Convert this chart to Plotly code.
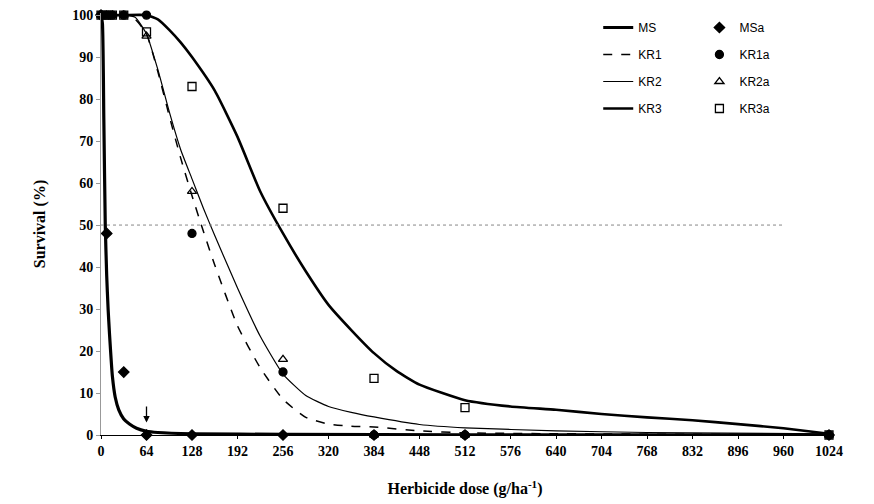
import plotly.graph_objects as go

# ---- data ----
tick_vals = [0, 64, 128, 192, 256, 320, 384, 448, 512, 576, 640, 704, 768, 832, 896, 960, 1024]
y_ticks = [0, 10, 20, 30, 40, 50, 60, 70, 80, 90, 100]

# fitted curves
ms_dose = [0, 2, 4, 6, 8, 10, 12, 16, 20, 25, 32, 40, 50, 64, 80, 128, 256, 512, 1024]
ms_surv = [100, 98, 75, 50, 38, 30, 24, 14, 9, 6, 3.8, 2.6, 1.6, 0.9, 0.6, 0.3, 0.15, 0.05, 0]

kr1_dose = [0, 16, 32, 48, 64, 80, 96, 112, 128, 144, 160, 192, 224, 256, 288, 320, 352, 384, 448, 512, 640, 768, 1024]
kr1_surv = [100, 100, 100, 99, 95.5, 86.5, 76, 66, 57, 48.5, 40.5, 26, 16, 8.5, 4.2, 2.6, 2.1, 1.9, 1.0, 0.5, 0.3, 0.2, 0.1]

kr2_dose = [0, 32, 48, 64, 80, 96, 112, 128, 144, 160, 192, 224, 256, 288, 320, 352, 384, 448, 512, 640, 768, 1024]
kr2_surv = [100, 100, 99.5, 95.5, 87, 77, 68, 61, 54, 47.5, 35, 23.5, 14.5, 9.4, 6.8, 5.4, 4.3, 2.5, 1.7, 1.0, 0.6, 0.3]

kr3_dose = [0, 32, 64, 80, 96, 112, 128, 160, 192, 224, 256, 288, 320, 352, 384, 416, 448, 512, 576, 640, 704, 768, 832, 896, 960, 1024]
kr3_surv = [100, 100, 100, 99, 96.5, 93.5, 90, 82, 71, 58, 48, 39, 31, 25, 19.5, 15.2, 12, 8.3, 6.8, 6, 5, 4.2, 3.5, 2.6, 1.6, 0.3]

# observed points
msa_dose = [0, 8, 32, 64, 128, 256, 384, 512, 1024]
msa_surv = [100, 48, 15, 0, 0, 0, 0, 0, 0]

kr1a_dose = [0, 8, 16, 32, 64, 128, 256, 384, 512, 1024]
kr1a_surv = [100, 100, 100, 100, 100, 48, 15, 0, 0, 0]

kr2a_dose = [0, 8, 16, 32, 64, 128, 256, 384, 512, 1024]
kr2a_surv = [100, 100, 100, 100, 95, 58, 18, 0, 0, 0]

kr3a_dose = [0, 8, 16, 32, 64, 128, 256, 384, 512, 1024]
kr3a_surv = [100, 100, 100, 100, 96, 83, 54, 13.5, 6.5, 0]

ref_level = 50
arrow_dose = 64

fig = go.Figure()

line_specs = [
    ("MS", ms_dose, ms_surv, 3.2, "solid"),
    ("KR1", kr1_dose, kr1_surv, 1.5, "dash"),
    ("KR2", kr2_dose, kr2_surv, 1.2, "solid"),
    ("KR3", kr3_dose, kr3_surv, 2.6, "solid"),
]
for name, xs, ys, w, d in line_specs:
    fig.add_trace(go.Scatter(
        x=xs, y=ys, mode="lines", name=name,
        line=dict(color="black", width=w, dash=d, shape="spline", smoothing=0.5),
        legend="legend", legendgroup=name, cliponaxis=False,
    ))

pt_specs = [
    ("MSa", msa_dose, msa_surv, "diamond", "black"),
    ("KR1a", kr1a_dose, kr1a_surv, "circle", "black"),
    ("KR2a", kr2a_dose, kr2a_surv, "triangle-up-open", "black"),
    ("KR3a", kr3a_dose, kr3a_surv, "square-open", "black"),
]
for name, xs, ys, sym, col in pt_specs:
    fig.add_trace(go.Scatter(
        x=xs, y=ys, mode="markers", name=name,
        marker=dict(symbol=sym, size=8, color=col, line=dict(color="black", width=1.3)),
        legend="legend2", legendgroup=name, cliponaxis=False,
    ))

# 50% reference dotted line
fig.add_shape(type="line", xref="x", yref="y", x0=0, x1=960, y0=ref_level, y1=ref_level,
              line=dict(color="#888888", width=1, dash="dot"))

# arrow at the discriminating dose
fig.add_annotation(x=arrow_dose, y=3, xref="x", yref="y", ax=0, ay=-26,
                   showarrow=True, arrowhead=2, arrowsize=1, arrowwidth=1.3,
                   arrowcolor="black", text=" ")

fig.update_layout(
    width=874, height=504,
    margin=dict(l=101, r=45, t=13, b=69),
    paper_bgcolor="white", plot_bgcolor="white",
    xaxis=dict(
        range=[0, 1024], tickvals=tick_vals, ticktext=[str(v) for v in tick_vals],
        tickfont=dict(family="Liberation Serif", size=14, color="black", weight="bold"),
        showgrid=False, zeroline=False, showline=True, linecolor="black", linewidth=1,
        ticks="outside", ticklen=3, tickcolor="black", automargin=False,
        title=dict(text="<b>Herbicide dose (g/ha<sup>-1</sup>)</b>",
                   font=dict(family="Liberation Serif", size=16, color="black"), standoff=25),
    ),
    yaxis=dict(
        range=[0, 100.5], tickvals=y_ticks, ticktext=[str(v) for v in y_ticks],
        tickfont=dict(family="Liberation Serif", size=14, color="black", weight="bold"),
        showgrid=False, zeroline=False, showline=True, linecolor="#999999", linewidth=1,
        ticks="outside", ticklen=4, tickcolor="#999999", automargin=False,
        title=dict(text="<b>Survival (%)</b>",
                   font=dict(family="Liberation Serif", size=16, color="black"), standoff=22),
    ),
    legend=dict(x=0.683, y=1.0, xanchor="left", yanchor="top",
                font=dict(family="Liberation Sans", size=12, color="black"),
                bgcolor="rgba(0,0,0,0)", traceorder="grouped", tracegroupgap=8,
                itemwidth=30),
    legend2=dict(x=0.822, y=1.0, xanchor="left", yanchor="top",
                 font=dict(family="Liberation Sans", size=12, color="black"),
                 bgcolor="rgba(0,0,0,0)", traceorder="grouped", tracegroupgap=8,
                 itemwidth=30),
    showlegend=True,
)

fig.write_html("out.html", config={"displayModeBar": False},
               post_script="document.body.style.margin='0px';")
